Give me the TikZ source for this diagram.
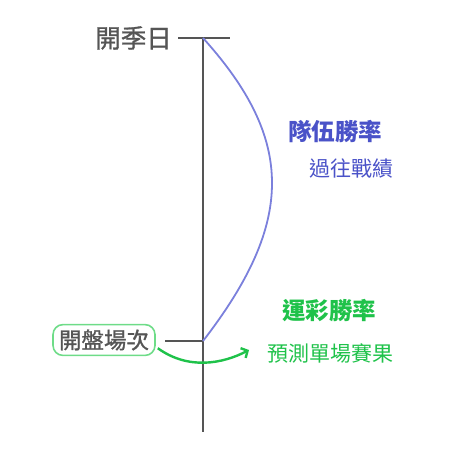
\documentclass[tikz,border=0pt]{standalone}
\usepackage{fontspec}
\usetikzlibrary{arrows.meta}
\newfontfamily\cjk{Noto Sans CJK TC}
\newfontfamily\cjkmed{Noto Sans CJK TC}[FakeBold=1.2]
\definecolor{axisgray}{HTML}{555555}
\definecolor{teamblue}{HTML}{4A52C8}
\definecolor{curveblue}{HTML}{7B80DC}
\definecolor{betgreen}{HTML}{1FC24A}
\definecolor{boxgreen}{HTML}{6EDC88}
\tikzset{
  axisline/.style={axisgray, line width=2.4pt},
  titletext/.style={font=\cjkmed\fontsize{25.5}{27}\selectfont, text=axisgray, inner sep=0pt},
  headtext/.style={font=\cjk\bfseries\fontsize{23.5}{25}\selectfont, inner sep=0pt},
  subtext/.style={font=\cjk\fontsize{21}{23}\selectfont, inner sep=0pt},
}
\begin{document}
\begin{tikzpicture}[x=1pt, y=-1pt]
        \useasboundingbox (0,0) rectangle (449,460);
        % time axis
        \coordinate (top) at (203,38);
        \coordinate (bot) at (203,341);
        \coordinate (end) at (203,432);
        \draw[axisline] (top) -- (end);
        \draw[axisline] (178,38) -- (230,38);
        \draw[axisline] (165,341) -- (bot);
        \node[titletext, anchor=east] (start) at (172,38) {開季日};
        % team win rate curve
        \draw[curveblue, line width=1.8pt] (top) .. controls (295,140) and (295,222) .. (bot);
        \node[headtext, text=teamblue] (team) at (335,132) {隊伍勝率};
        \node[subtext, text=teamblue, anchor=east] (past) at (394,169) {過往戰績};
        % betting win rate
        \node[font=\cjkmed\fontsize{22.5}{24}\selectfont, text=axisgray, draw=boxgreen,
              line width=1.6pt, rounded corners=10pt, inner xsep=6pt, inner ysep=5pt,
              fill=white] (open) at (104,340) {開盤場次};
        \node[headtext, text=betgreen] (bet) at (329,311) {運彩勝率};
        \node[subtext, text=betgreen] (pred) at (330,353) {預測單場賽果};
        \coordinate (tip) at (249,350);
        \draw[betgreen, line width=2.4pt, -{Straight Barb[length=5pt, width=11pt]}]
            ([xshift=2pt, yshift=8pt]open.south east) .. controls (188,370) and (222,364) .. (tip);
    \end{tikzpicture}
\end{document}
